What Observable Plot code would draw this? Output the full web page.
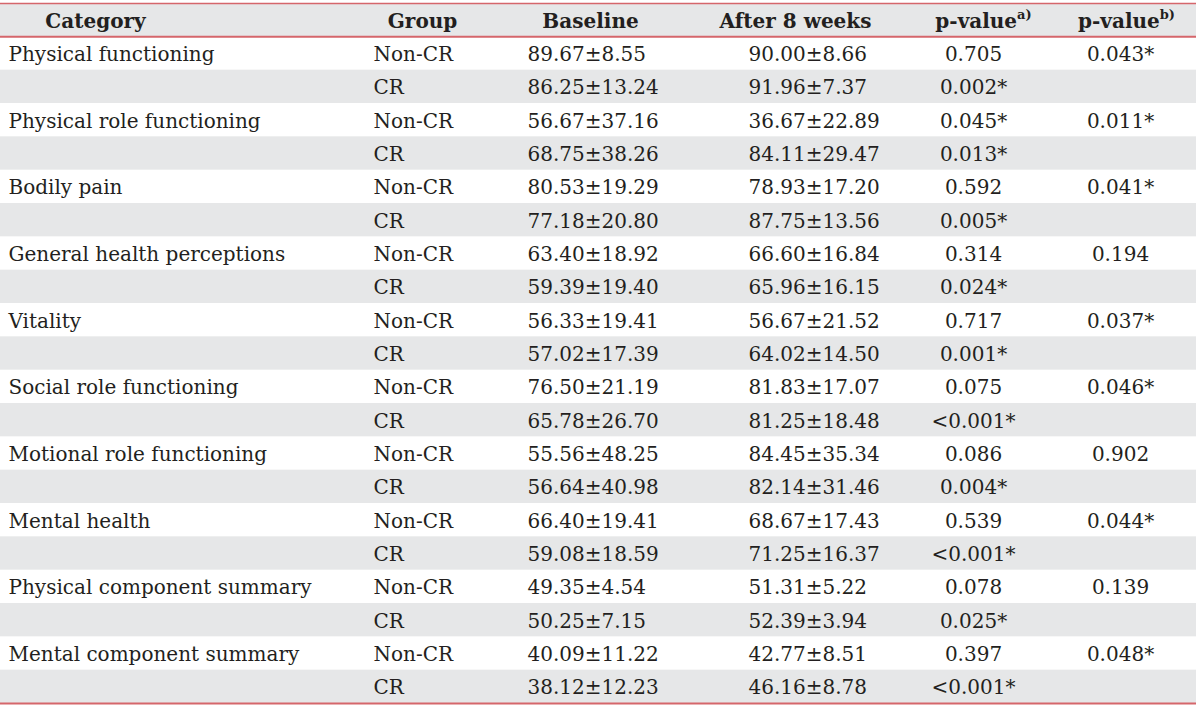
<!DOCTYPE html>
<html>
<head>
<meta charset="utf-8">
<script src="https://cdn.jsdelivr.net/npm/d3@7"></script>
<script src="https://cdn.jsdelivr.net/npm/@observablehq/plot@0.6"></script>
<style>
  html, body { margin: 0; padding: 0; background: #fff; }
  #chart svg { display: block; }
</style>
</head>
<body>
<div id="chart"></div>
<script>
// ---- data ----
const headers = ["Category", "Group", "Baseline", "After 8 weeks", "p-value", "p-value"];
const headerSup = ["", "", "", "", "a)", "b)"];
const categories = [
  "Physical functioning", "Physical role functioning", "Bodily pain",
  "General health perceptions", "Vitality", "Social role functioning",
  "Motional role functioning", "Mental health", "Physical component summary",
  "Mental component summary"
];
const groups = ["Non-CR", "CR"];
const baseline = [
  "89.67±8.55", "86.25±13.24", "56.67±37.16", "68.75±38.26", "80.53±19.29", "77.18±20.80",
  "63.40±18.92", "59.39±19.40", "56.33±19.41", "57.02±17.39", "76.50±21.19", "65.78±26.70",
  "55.56±48.25", "56.64±40.98", "66.40±19.41", "59.08±18.59", "49.35±4.54", "50.25±7.15",
  "40.09±11.22", "38.12±12.23"
];
const after8 = [
  "90.00±8.66", "91.96±7.37", "36.67±22.89", "84.11±29.47", "78.93±17.20", "87.75±13.56",
  "66.60±16.84", "65.96±16.15", "56.67±21.52", "64.02±14.50", "81.83±17.07", "81.25±18.48",
  "84.45±35.34", "82.14±31.46", "68.67±17.43", "71.25±16.37", "51.31±5.22", "52.39±3.94",
  "42.77±8.51", "46.16±8.78"
];
const pWithin = [
  "0.705", "0.002*", "0.045*", "0.013*", "0.592", "0.005*", "0.314", "0.024*", "0.717", "0.001*",
  "0.075", "<0.001*", "0.086", "0.004*", "0.539", "<0.001*", "0.078", "0.025*", "0.397", "<0.001*"
];
const pBetween = ["0.043*", "0.011*", "0.041*", "0.194", "0.037*", "0.046*", "0.902", "0.044*", "0.139", "0.048*"];

// ---- layout / style ----
const W = 1200, H = 706;
const tableLeft = 0, tableRight = 1196;
const colX = [8, 373, 527, 748, 973, 1120];          // text anchors per column
const colAnchor = ["start", "start", "start", "start", "middle", "middle"];
const headerX = [95, 422, 590, 795, 983, 1126];
const fontFamily = "DejaVu Serif";
const fontSize = 20;
const ink = "#231f20";
const shade = "#e6e7e8";
const red = "#d5666b";

// build the rows table (row 0 = header)
const rows = [];
categories.forEach((cat, ci) => {
  groups.forEach((g, gi) => {
    const i = ci * 2 + gi;
    rows.push({
      row: i + 1,
      cells: [gi === 0 ? cat : "", g, baseline[i], after8[i], pWithin[i], gi === 0 ? pBetween[ci] : ""]
    });
  });
});
const cellData = [];
rows.forEach(r => r.cells.forEach((t, c) => { if (t) cellData.push({row: r.row, col: c, text: t}); }));
const headerData = headers.map((h, c) => ({row: 0, col: c, text: h, sup: headerSup[c]}));
const shaded = [{row: 0}, ...rows.filter(r => r.row % 2 === 0)];

const plot = Plot.plot({
  width: W, height: H,
  margin: 0,
  x: {domain: [0, W], range: [0, W], axis: null},
  y: {domain: [0, rows.length + 1], range: [3, 703], axis: null},
  style: {fontFamily, fontSize: fontSize + "px", color: ink, background: "#fff"},
  marks: [
    Plot.rect(shaded, {x1: tableLeft, x2: tableRight, y1: d => d.row, y2: d => d.row + 1, fill: shade}),
    Plot.ruleY([0], {x1: tableLeft, x2: tableRight, stroke: red, strokeWidth: 1.5}),
    Plot.ruleY([1, rows.length + 1], {x1: tableLeft, x2: tableRight, stroke: red, strokeWidth: 2}),
    Plot.text(headerData, {
      x: d => headerX[d.col], y: d => d.row + 0.5, text: "text", dy: 1,
      textAnchor: "middle", fontWeight: "bold", fill: ink, fontSize
    }),
    ...[0, 1, 2, 3, 4, 5].map(c => Plot.text(cellData.filter(d => d.col === c), {
      x: d => colX[d.col], y: d => d.row + 0.5, text: "text", dy: 1,
      textAnchor: colAnchor[c], fill: ink, fontSize
    }))
  ]
});

// superscripts in header
const supQueue = headerData.filter(d => d.sup).map(d => d.sup);
plot.querySelectorAll("text").forEach(t => {
  if (t.textContent === "p-value" && supQueue.length) {
    const ts = document.createElementNS("http://www.w3.org/2000/svg", "tspan");
    ts.setAttribute("dy", "-0.65em");
    ts.setAttribute("font-size", "13px");
    ts.textContent = supQueue.shift();
    t.appendChild(ts);
  }
});

document.getElementById("chart").appendChild(plot);
</script>
</body>
</html>
